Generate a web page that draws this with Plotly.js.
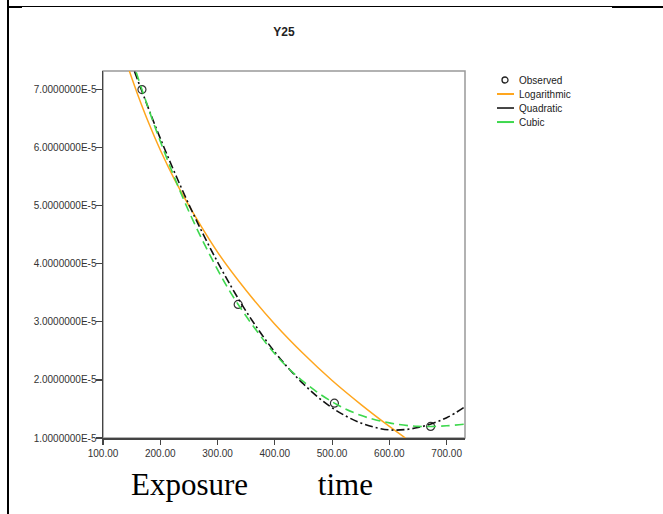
<!DOCTYPE html>
<html>
<head>
<meta charset="utf-8">
<script src="https://cdn.plot.ly/plotly-3.0.1.min.js"></script>
<style>
  html, body { margin: 0; padding: 0; background: #fff; }
  #wrap { position: relative; width: 663px; height: 514px; overflow: hidden; }
  #chart { position: absolute; left: 0; top: 0; width: 663px; height: 514px; }
  .rule { position: absolute; background: #000; z-index: 5; }
</style>
</head>
<body>
<div id="wrap">
  <div id="chart"></div>
  <div class="rule" style="left:7px; top:0; width:2px; height:514px;"></div>
  <div class="rule" style="left:9px; top:6px; width:603px; height:1px;"></div>
  <div class="rule" style="left:9px; top:6px; width:13px; height:2px;"></div>
  <div class="rule" style="left:612px; top:6px; width:51px; height:2px;"></div>
</div>
<script>
// ---- data ----
const obsX = [168, 336, 504, 672];
const obsY = [7.0e-5, 3.3e-5, 1.6e-5, 1.2e-5];

const logX = [146, 160, 180, 200, 225, 250, 300, 350, 400, 450, 500, 550, 600, 628];
const logY = [7.32e-5, 6.93e-5, 6.42e-5, 5.96e-5, 5.45e-5, 5.00e-5, 4.20e-5, 3.54e-5, 2.96e-5, 2.45e-5, 1.99e-5, 1.58e-5, 1.20e-5, 1.00e-5];

const quadX = [155, 168, 200, 250, 300, 350, 400, 450, 500, 550, 600, 650, 700, 732];
const quadY = [7.31e-5, 6.97e-5, 6.16e-5, 5.02e-5, 4.03e-5, 3.18e-5, 2.48e-5, 1.93e-5, 1.52e-5, 1.26e-5, 1.14e-5, 1.18e-5, 1.35e-5, 1.54e-5];

const cubicX = [158, 168, 200, 250, 300, 336, 400, 450, 504, 550, 600, 650, 700, 732];
const cubicY = [7.30e-5, 7.00e-5, 6.11e-5, 4.90e-5, 3.90e-5, 3.30e-5, 2.45e-5, 1.97e-5, 1.60e-5, 1.39e-5, 1.26e-5, 1.20e-5, 1.21e-5, 1.24e-5];

const seriesNames = ["Observed", "Logarithmic", "Quadratic", "Cubic"];

const xTickVals = [100, 200, 300, 400, 500, 600, 700];
const xTickText = ["100.00", "200.00", "300.00", "400.00", "500.00", "600.00", "700.00"];
const yTickVals = [1e-5, 2e-5, 3e-5, 4e-5, 5e-5, 6e-5, 7e-5];
const yTickText = ["1.0000000E-5", "2.0000000E-5", "3.0000000E-5", "4.0000000E-5", "5.0000000E-5", "6.0000000E-5", "7.0000000E-5"];

const titleText = "Y25";
const xTitleText = "Exposure" + "\u00A0".repeat(9) + "time";

// ---- styles ----
const colors = ["#333", "#FFA61E", "#111", "#3ED84E"];
const dashes = [null, "solid", "8px,3px,2px,3px", "9px,5px"];

// plot area in pixels (for positioning the key, title and axis caption)
const PL = 103, PR = 465, PT = 71, PB = 437.7;
const px2x = p => (p - PL) / (PR - PL);
const px2y = p => (PB - p) / (PB - PT);

const traces = [
  { x: obsX, y: obsY, name: seriesNames[0], type: "scatter", mode: "markers",
    marker: { symbol: "circle-open", size: 8, color: colors[0], line: { width: 1.2, color: colors[0] } } },
  { x: logX, y: logY, name: seriesNames[1], type: "scatter", mode: "lines",
    line: { color: colors[1], width: 1.5, shape: "spline" } },
  { x: quadX, y: quadY, name: seriesNames[2], type: "scatter", mode: "lines",
    line: { color: colors[2], width: 1.6, shape: "spline", dash: dashes[2] } },
  { x: cubicX, y: cubicY, name: seriesNames[3], type: "scatter", mode: "lines",
    line: { color: colors[3], width: 1.6, shape: "spline", dash: dashes[3] } }
];

const axisFont = { family: "Arial, Liberation Sans, sans-serif", size: 10, color: "#333" };

// key (legend) drawn as shapes + text, rows 14px apart
const keyRowsY = [80, 94, 108, 122];
const keyShapes = [];
const keyAnns = [];
seriesNames.forEach((nm, i) => {
  const yy = px2y(keyRowsY[i]);
  if (i === 0) {
    keyShapes.push({ type: "circle", xref: "paper", yref: "paper",
      x0: px2x(502), x1: px2x(508), y0: px2y(keyRowsY[i] + 3), y1: px2y(keyRowsY[i] - 3),
      line: { color: "#222", width: 1.3 } });
  } else {
    keyShapes.push({ type: "line", xref: "paper", yref: "paper",
      x0: px2x(497), x1: px2x(514), y0: yy, y1: yy,
      line: { color: i === 2 ? "#444" : colors[i], width: 2 } });
  }
  keyAnns.push({ text: nm, xref: "paper", yref: "paper", x: px2x(517), y: yy,
    xanchor: "left", yanchor: "middle", showarrow: false,
    font: { family: "Arial, Liberation Sans, sans-serif", size: 10, color: "#222" } });
});

const layout = {
  width: 663, height: 514,
  margin: { l: PL, r: 663 - PR, t: PT, b: 514 - PB, pad: 0 },
  paper_bgcolor: "#fff", plot_bgcolor: "#fff",
  showlegend: false,
  title: { text: "<b>" + titleText + "</b>", x: 0.5, xref: "paper", y: 1 - 32/514, yref: "container",
           xanchor: "center", yanchor: "middle",
           font: { family: "Arial, Liberation Sans, sans-serif", size: 12, color: "#222" } },
  xaxis: {
    range: [100, 732], showgrid: false, zeroline: false,
    showline: true, linecolor: "#444", linewidth: 1.5, mirror: false,
    ticks: "outside", ticklen: 5, tickwidth: 1.2, tickcolor: "#444",
    tickvals: xTickVals, ticktext: xTickText, tickfont: axisFont
  },
  yaxis: {
    range: [1e-5, 7.32e-5], showgrid: false, zeroline: false,
    showline: true, linecolor: "#444", linewidth: 1.5, mirror: false,
    ticks: "outside", ticklen: 6, tickwidth: 1.2, tickcolor: "#444",
    ticklabelstandoff: -3,
    tickvals: yTickVals, ticktext: yTickText, tickfont: axisFont
  },
  shapes: [
    { type: "rect", xref: "paper", yref: "paper", x0: 0, x1: 1, y0: 0, y1: 1,
      line: { color: "#999", width: 1.5 }, layer: "below" }
  ].concat(keyShapes),
  annotations: [
    { text: xTitleText, xref: "paper", yref: "paper", x: px2x(251.5), y: px2y(484),
      xanchor: "center", yanchor: "middle", showarrow: false,
      font: { family: "Liberation Serif, Times New Roman, serif", size: 31, color: "#000" } }
  ].concat(keyAnns)
};

Plotly.newPlot("chart", traces, layout, { staticPlot: true, displayModeBar: false });
</script>
</body>
</html>
